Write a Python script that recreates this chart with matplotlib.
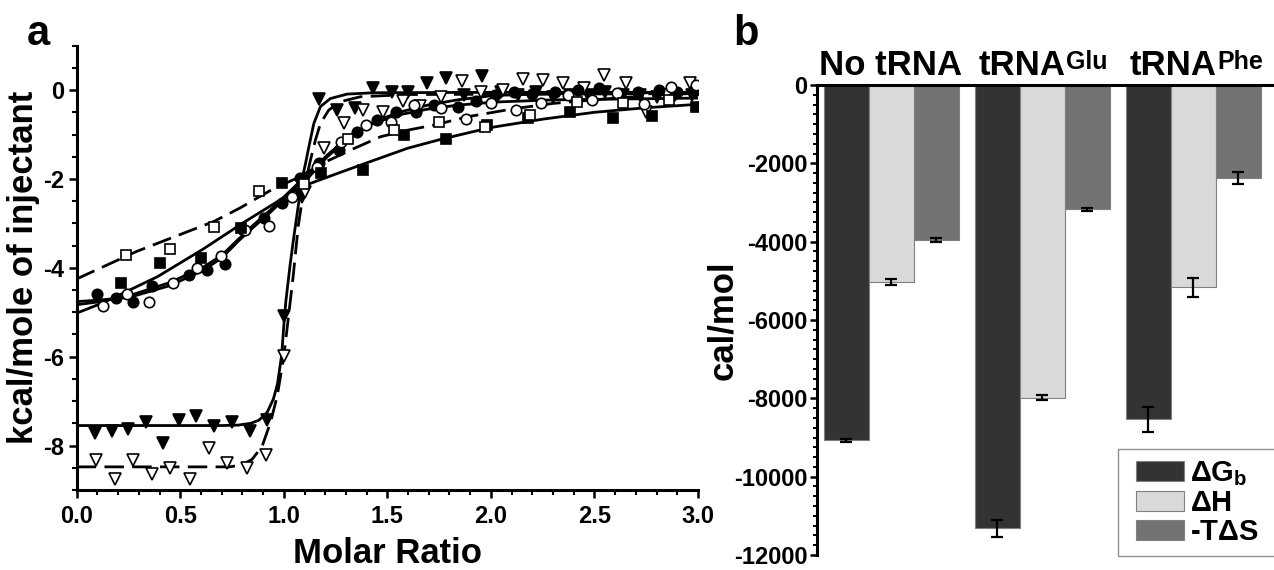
import numpy as np
import matplotlib.pyplot as plt
from matplotlib.ticker import MultipleLocator
from matplotlib.patches import Rectangle

plt.rcParams['font.family'] = ['Liberation Sans', 'DejaVu Sans']
plt.rcParams['font.weight'] = 'bold'
plt.rcParams['axes.unicode_minus'] = False
plt.rcParams['mathtext.fontset'] = 'custom'
plt.rcParams['mathtext.rm'] = 'Liberation Sans:bold'
plt.rcParams['mathtext.bf'] = 'Liberation Sans:bold'
plt.rcParams['mathtext.it'] = 'Liberation Sans:bold'

# ---- panel a: ITC injections (molar ratio, kcal/mol) ----
ftri_x = [0.089, 0.169, 0.25, 0.335, 0.419, 0.496, 0.577, 0.661, 0.75, 0.835, 0.919, 1.0, 1.088,
          1.169, 1.258, 1.346, 1.432, 1.524, 1.60, 1.693, 1.782, 1.87, 1.959, 2.05, 2.13, 2.22,
          2.30, 2.38, 2.47, 2.55, 2.64, 2.72, 2.80, 2.89, 2.97]
ftri_y = [-7.72, -7.68, -7.63, -7.47, -7.94, -7.42, -7.34, -7.57, -7.47, -7.68, -7.43, -5.09, -2.40,
          -0.19, -0.45, -0.41, 0.04, -0.04, -0.05, 0.15, 0.28, -0.10, 0.31, -0.05, -0.10, -0.05,
          -0.15, -0.10, -0.10, -0.05, -0.10, -0.10, -0.15, -0.10, -0.10]

otri_x = [0.093, 0.185, 0.274, 0.363, 0.451, 0.545, 0.637, 0.726, 0.822, 0.916, 1.0, 1.10, 1.193,
          1.29, 1.384, 1.48, 1.575, 1.66, 1.757, 1.862, 1.95, 2.056, 2.153, 2.25, 2.35, 2.45,
          2.548, 2.65, 2.75, 2.85, 2.96]
otri_y = [-8.33, -8.75, -8.33, -8.63, -8.50, -8.75, -8.05, -8.39, -8.50, -8.22, -5.98, -2.30, -1.31,
          -0.75, -0.45, -0.49, -0.24, -0.36, -0.15, 0.21, -0.05, 0.0, 0.26, 0.22, 0.17, 0.05,
          0.34, 0.15, -0.49, -0.10, 0.15]

fcir_x = [0.097, 0.19, 0.274, 0.363, 0.54, 0.629, 0.717, 0.80, 0.903, 0.992, 1.077, 1.169, 1.266,
          1.354, 1.448, 1.54, 1.637, 1.726, 1.84, 1.93, 2.02, 2.11, 2.20, 2.31, 2.42, 2.52, 2.62,
          2.71, 2.81, 2.90, 2.98]
fcir_y = [-4.59, -4.68, -4.76, -4.42, -4.16, -4.04, -3.91, -3.12, -2.87, -2.55, -1.98, -1.65, -1.35,
          -0.94, -0.67, -0.49, -0.49, -0.34, -0.37, -0.24, -0.10, -0.05, -0.08, -0.04, 0.0, 0.04,
          -0.06, -0.04, 0.0, -0.05, -0.02]

ocir_x = [0.126, 0.242, 0.351, 0.467, 0.58, 0.697, 0.814, 0.927, 1.04, 1.161, 1.274, 1.395, 1.516,
          1.629, 1.757, 1.879, 1.999, 2.12, 2.24, 2.37, 2.49, 2.61, 2.74, 2.87, 2.99]
ocir_y = [-4.85, -4.59, -4.77, -4.34, -4.01, -3.73, -3.15, -3.07, -2.41, -1.72, -1.16, -0.79, -0.71,
          -0.34, -0.41, -0.64, -0.30, -0.45, -0.30, -0.11, -0.22, -0.07, -0.32, 0.06, 0.11]

fsq_x = [0.213, 0.403, 0.60, 0.793, 0.99, 1.18, 1.384, 1.58, 1.785, 1.98, 2.18, 2.38, 2.59, 2.78, 2.99]
fsq_y = [-4.34, -3.89, -3.77, -3.11, -2.10, -1.87, -1.80, -1.01, -1.10, -0.78, -0.62, -0.50, -0.63, -0.59, -0.38]

osq_x = [0.237, 0.449, 0.661, 0.878, 1.096, 1.31, 1.532, 1.75, 1.97, 2.19, 2.416, 2.637, 2.862]
osq_y = [-3.71, -3.57, -3.09, -2.26, -2.12, -1.11, -0.90, -0.71, -0.82, -0.56, -0.26, -0.30, -0.22]

# fitted curves
fit_ftri_x = [0.0, 0.70, 0.78, 0.84, 0.88, 0.92, 0.95, 0.97, 0.99, 1.0, 1.01, 1.03, 1.05, 1.07, 1.088,
              1.105, 1.12, 1.145, 1.177, 1.225, 1.306, 1.435, 2.0, 3.0]
fit_ftri_y = [-7.55, -7.55, -7.54, -7.50, -7.43, -7.25, -6.95, -6.60, -5.95, -5.30, -4.75, -3.95,
              -3.25, -2.60, -2.00, -1.65, -1.30, -0.75, -0.37, -0.19, -0.09, -0.06, -0.05, -0.05]

fit_otri_x = [0.0, 0.74, 0.80, 0.847, 0.895, 0.935, 0.968, 1.0, 1.02, 1.045, 1.07, 1.096, 1.129,
              1.153, 1.177, 1.217, 1.274, 1.37, 1.6, 3.0]
fit_otri_y = [-8.48, -8.48, -8.43, -8.31, -8.02, -7.49, -6.89, -6.00, -5.20, -4.20, -3.05, -2.25,
              -1.57, -1.12, -0.75, -0.45, -0.26, -0.15, -0.10, -0.08]

fit_fcir_x = [0.0, 0.10, 0.258, 0.451, 0.613, 0.70, 0.78, 0.85, 0.935, 1.064, 1.113, 1.21, 1.322,
              1.435, 1.564, 1.693, 1.838, 2.016, 2.3, 3.0]
fit_fcir_y = [-4.76, -4.73, -4.66, -4.40, -4.05, -3.78, -3.40, -3.10, -2.75, -2.17, -2.00, -1.50,
              -1.05, -0.71, -0.49, -0.34, -0.22, -0.12, -0.08, -0.05]

fit_ocir_x = [0.0, 0.10, 0.258, 0.451, 0.613, 0.70, 0.78, 0.85, 0.935, 1.064, 1.113, 1.21, 1.322,
              1.435, 1.564, 1.693, 1.838, 2.016, 2.3, 3.0]
fit_ocir_y = [-4.83, -4.77, -4.62, -4.33, -3.98, -3.72, -3.36, -3.05, -2.70, -2.12, -1.92, -1.46,
              -1.03, -0.74, -0.55, -0.43, -0.34, -0.27, -0.22, -0.18]

fit_fsq_x = [0.0, 0.13, 0.39, 0.61, 0.806, 1.0, 1.088, 1.274, 1.435, 1.597, 1.757, 1.919, 2.016,
             2.257, 2.5, 2.74, 3.0]
fit_fsq_y = [-5.02, -4.78, -4.20, -3.58, -2.98, -2.42, -2.17, -1.85, -1.58, -1.31, -1.11, -0.93,
             -0.83, -0.65, -0.50, -0.40, -0.32]

fit_osq_x = [0.0, 0.29, 0.50, 0.661, 0.79, 0.871, 0.95, 1.064, 1.20, 1.322, 1.467, 1.60, 1.733,
             1.887, 2.11, 2.30, 2.55, 2.85, 3.0]
fit_osq_y = [-4.25, -3.63, -3.25, -2.96, -2.65, -2.43, -2.22, -1.98, -1.62, -1.35, -1.05, -0.90,
             -0.78, -0.60, -0.42, -0.30, -0.20, -0.10, -0.07]

# ---- panel b: thermodynamic parameters (cal/mol) ----
groups = ['No tRNA', 'tRNA', 'tRNA']
group_sup = ['', 'Glu', 'Phe']
dG = [-9070, -11320, -8540]
dG_err = [40, 220, 310]
dH = [-5030, -7980, -5170]
dH_err = [80, 70, 240]
TdS = [-3960, -3170, -2370]
TdS_err = [55, 35, 150]
series_labels = [r'$\Delta$G$_{\mathbf{b}}$', r'$\Delta$H', r'-T$\Delta$S']

fig = plt.figure(figsize=(12.74, 5.70), dpi=100)

# %% panel a
ax1 = fig.add_axes([0.0602, 0.1404, 0.4877, 0.7795])
lw = 2.0
dash = (7, 3)
ax1.plot(fit_ftri_x, fit_ftri_y, color='black', lw=lw, zorder=2)
ax1.plot(fit_otri_x, fit_otri_y, color='black', lw=lw, dashes=dash, zorder=2)
ax1.plot(fit_fcir_x, fit_fcir_y, color='black', lw=lw, zorder=2)
ax1.plot(fit_ocir_x, fit_ocir_y, color='black', lw=lw, zorder=2)
ax1.plot(fit_fsq_x, fit_fsq_y, color='black', lw=lw, zorder=2)
ax1.plot(fit_osq_x, fit_osq_y, color='black', lw=lw, dashes=dash, zorder=2)

mk = dict(linestyle='none', mec='black', mew=1.2, zorder=3)
ax1.plot(ftri_x, ftri_y, marker='v', ms=9, mfc='black', **mk)
ax1.plot(otri_x, otri_y, marker='v', ms=9, mfc='white', **mk)
ax1.plot(fcir_x, fcir_y, marker='o', ms=7.5, mfc='black', **mk)
ax1.plot(ocir_x, ocir_y, marker='o', ms=7.5, mfc='white', **mk)
ax1.plot(fsq_x, fsq_y, marker='s', ms=6.5, mfc='black', **mk)
ax1.plot(osq_x, osq_y, marker='s', ms=6.5, mfc='white', **mk)

ax1.set_xlim(0, 3)
ax1.set_ylim(-9, 1)
ax1.set_xticks(np.arange(0, 3.01, 0.5))
ax1.set_xticklabels([f'{v:.1f}' for v in np.arange(0, 3.01, 0.5)])
ax1.set_yticks([-8, -6, -4, -2, 0])
ax1.xaxis.set_minor_locator(MultipleLocator(0.1))
ax1.yaxis.set_minor_locator(MultipleLocator(0.5))
for s in ['top', 'right']:
    ax1.spines[s].set_visible(False)
for s in ['left', 'bottom']:
    ax1.spines[s].set_linewidth(2.2)
ax1.tick_params(which='major', length=6, width=1.8, labelsize=17, direction='out')
ax1.tick_params(which='minor', length=3.5, width=1.5, direction='out')
ax1.tick_params(axis='x', pad=5)
ax1.tick_params(axis='y', pad=3)
ax1.set_xlabel('Molar Ratio', fontsize=25, fontweight='bold', labelpad=6)
ax1.set_ylabel('kcal/mole of injectant', fontsize=25, fontweight='bold', labelpad=2)

# %% panel b
ax2 = fig.add_axes([0.6413, 0.0263, 0.3587, 0.8246])
x = np.arange(len(groups))
w = 0.298
colors = ['#333333', '#d9d9d9', '#737373']
vals = [dG, dH, TdS]
errs = [dG_err, dH_err, TdS_err]
handles = []
for i, (v, e, c) in enumerate(zip(vals, errs, colors)):
    b = ax2.bar(x + (i - 1) * w, v, width=w, color=c, edgecolor='#808080', linewidth=0.8,
                align='center', zorder=2)
    ax2.errorbar(x + (i - 1) * w, v, yerr=e, fmt='none', ecolor='black', elinewidth=1.6,
                 capsize=4.5, capthick=1.6, zorder=3)
    handles.append(b)

ax2.set_xlim(-0.49, 2.536)
ax2.set_ylim(-12000, 0)
ax2.set_yticks(np.arange(-12000, 1, 2000))
ax2.yaxis.set_minor_locator(MultipleLocator(250))
ax2.set_xticks([])
for s in ['bottom', 'right']:
    ax2.spines[s].set_visible(False)
for s in ['left', 'top']:
    ax2.spines[s].set_linewidth(2.2)
ax2.tick_params(which='major', length=5, width=1.8, labelsize=17, direction='out', pad=2)
ax2.tick_params(which='minor', length=3, width=1.4, direction='out')
ax2.set_ylabel('cal/mol', fontsize=25, fontweight='bold')
ax2.yaxis.set_label_coords((739 - 817) / 457, 0.5)

for xi, name, sup in zip(x, groups, group_sup):
    shift = -20 if sup else 0
    t = ax2.annotate(name, xy=(xi, 0), xycoords='data', xytext=(shift * 0.72, 7.5),
                     textcoords='offset points', ha='center', va='baseline',
                     fontsize=25, fontweight='bold', annotation_clip=False)
    if sup:
        ax2.annotate(sup, xy=(1, 1), xycoords=t, xytext=(0.5, -1), textcoords='offset points',
                     ha='left', va='top', fontsize=18, fontweight='bold', annotation_clip=False)

# legend box runs off the right edge of the figure, as in the original
fig.patches.append(Rectangle((1118 / 1274, 1 - 556 / 570), 0.2, 107 / 570,
                             transform=fig.transFigure, facecolor='white',
                             edgecolor='#909090', linewidth=1.0, zorder=4))
leg = fig.legend(handles, series_labels, loc='upper left', bbox_to_anchor=(0.8845, 0.2100),
                 fontsize=21, frameon=False, handlelength=1.65, handleheight=0.68,
                 handletextpad=0.2, labelspacing=0.04, borderpad=0.3, borderaxespad=0)
leg.set_zorder(5)

fig.text(0.0212, 0.921, 'a', fontsize=30, fontweight='bold', va='baseline', ha='left')
fig.text(0.5754, 0.921, 'b', fontsize=30, fontweight='bold', va='baseline', ha='left')

fig.savefig('out.png', dpi=100)
